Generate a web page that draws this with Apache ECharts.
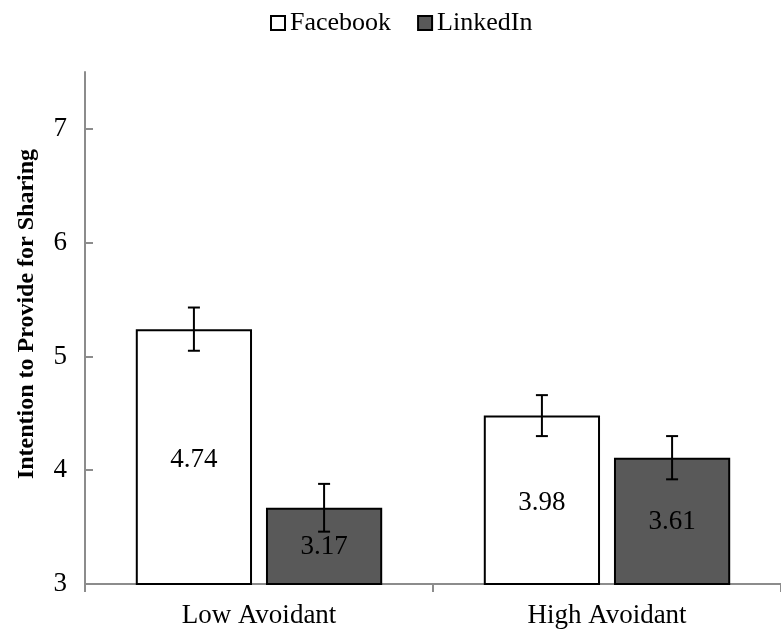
<!DOCTYPE html>
<html>
<head>
<meta charset="utf-8">
<script src="https://cdn.jsdelivr.net/npm/echarts@6/dist/echarts.min.js"></script>
<style>
html,body{margin:0;padding:0;background:#fff;}
#chart{width:781px;height:632px;}
</style>
</head>
<body>
<div id="chart"></div>
<script>
const categories = ['Low Avoidant', 'High Avoidant'];
const seriesNames = ['Facebook', 'LinkedIn'];
const facebookBar = [5.24, 4.48];
const linkedinBar = [3.67, 4.11];
const facebookLabels = ['4.74', '3.98'];
const linkedinLabels = ['3.17', '3.61'];
const facebookErr = [0.19, 0.18];
const linkedinErr = [0.21, 0.19];
const yTicks = [3, 4, 5, 6, 7];
const yTitle = 'Intention to Provide for Sharing';

const FONT = '"Liberation Serif", "Times New Roman", serif';
const BAR_W = 0.334, BAR_GAP = 0.12;

const chart = echarts.init(document.getElementById('chart'), null, {renderer: 'canvas'});

function errSeries(name, means, errs, sign) {
  const data = means.map((m, i) => [i, m, errs[i]]);
  return {
    type: 'custom',
    name: name + ' error',
    z: 10,
    silent: true,
    data: data,
    renderItem: function (params, api) {
      const i = api.value(0), m = api.value(1), e = api.value(2);
      const band = api.size([1, 0])[0];
      const bw = band * BAR_W;
      const off = sign * (bw + bw * BAR_GAP) / 2;
      const hi = api.coord([i, m + e]);
      const lo = api.coord([i, m - e]);
      const x = hi[0] + off;
      const cap = 6;
      const st = {stroke: '#000', lineWidth: 2};
      return {
        type: 'group',
        children: [
          {type: 'line', shape: {x1: x, y1: hi[1], x2: x, y2: lo[1]}, style: st},
          {type: 'line', shape: {x1: x - cap, y1: hi[1], x2: x + cap, y2: hi[1]}, style: st},
          {type: 'line', shape: {x1: x - cap, y1: lo[1], x2: x + cap, y2: lo[1]}, style: st}
        ]
      };
    }
  };
}

const option = {
  animation: false,
  textStyle: {fontFamily: FONT, color: '#000'},
  legend: {
    data: seriesNames,
    left: 265,
    top: 5,
    itemWidth: 14,
    itemHeight: 14,
    itemGap: 26,
    icon: 'rect',
    textStyle: {fontFamily: FONT, fontSize: 26, color: '#000'}
  },
  grid: {left: 85, right: -8, top: 72, bottom: 48},
  xAxis: {
    type: 'category',
    data: categories,
    axisLine: {lineStyle: {color: '#8c8c8c', width: 2}},
    axisTick: {show: true, length: 8, lineStyle: {color: '#8c8c8c', width: 2}},
    axisLabel: {fontFamily: FONT, fontSize: 27, color: '#000', margin: 18}
  },
  yAxis: {
    type: 'value',
    min: 3,
    max: 7.5,
    interval: 1,
    name: yTitle,
    nameLocation: 'middle',
    nameRotate: 90,
    nameGap: 46,
    nameTextStyle: {fontFamily: FONT, fontSize: 24, fontWeight: 'bold', color: '#000', padding: [0, 0, 0, 28]},
    axisLine: {show: true, lineStyle: {color: '#8c8c8c', width: 2}},
    axisTick: {show: true, inside: true, length: 8, customValues: yTicks, lineStyle: {color: '#8c8c8c', width: 2}},
    axisLabel: {fontFamily: FONT, fontSize: 27, color: '#000', margin: 18, customValues: yTicks},
    splitLine: {show: false}
  },
  series: [
    {
      name: seriesNames[0],
      type: 'bar',
      data: facebookBar,
      barWidth: (BAR_W * 100) + '%',
      barGap: (BAR_GAP * 100) + '%',
      itemStyle: {color: '#ffffff', borderColor: '#000', borderWidth: 2},
      label: {
        show: true, position: 'inside', fontFamily: FONT, fontSize: 27, color: '#000',
        offset: [0, 3],
        formatter: p => facebookLabels[p.dataIndex]
      }
    },
    {
      name: seriesNames[1],
      type: 'bar',
      data: linkedinBar,
      barWidth: (BAR_W * 100) + '%',
      barGap: (BAR_GAP * 100) + '%',
      itemStyle: {color: '#595959', borderColor: '#000', borderWidth: 2},
      label: {
        show: true, position: 'inside', fontFamily: FONT, fontSize: 27, color: '#000',
        offset: [0, 1],
        formatter: p => linkedinLabels[p.dataIndex]
      }
    },
    errSeries('Facebook', facebookBar, facebookErr, -1),
    errSeries('LinkedIn', linkedinBar, linkedinErr, 1)
  ]
};
chart.setOption(option);
</script>
</body>
</html>
